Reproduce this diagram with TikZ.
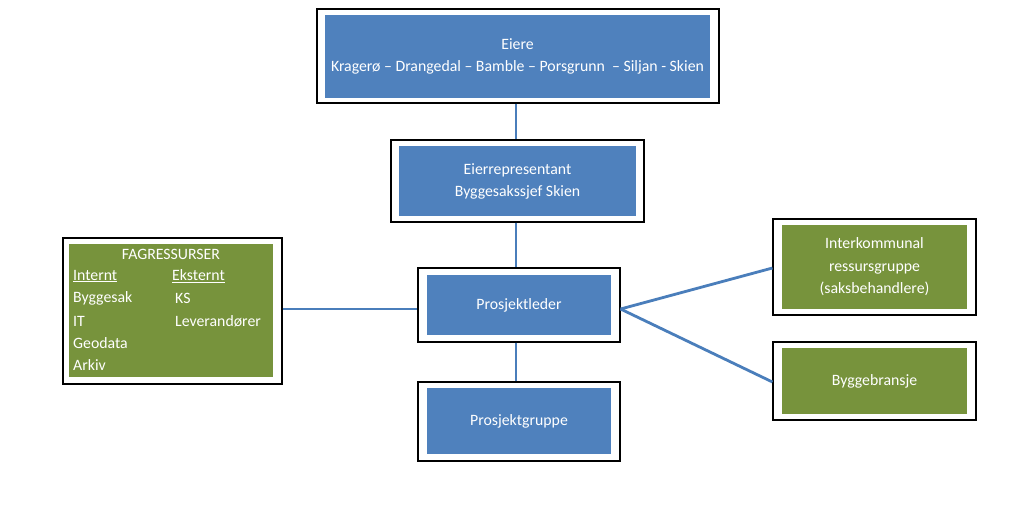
\documentclass[tikz,border=0pt]{standalone}
\usepackage{fontspec}
\setmainfont{Carlito}
\definecolor{boxblue}{HTML}{4F81BD}
\definecolor{boxgreen}{HTML}{77933C}
\definecolor{lineblue}{HTML}{4A7EBB}
\begin{document}
\begin{tikzpicture}[x=1pt,y=-1pt,
  frame/.style={draw=black,line width=1.1pt,fill=white,inner sep=0pt},
  bluebox/.style={fill=boxblue,text=white,inner sep=0pt,align=center,font=\fontsize{15.8}{22}\selectfont},
  greenbox/.style={fill=boxgreen,text=white,inner sep=0pt,align=center,font=\fontsize{15.8}{22.5}\selectfont},
  txt/.style={text=white,inner sep=0pt,anchor=west,font=\fontsize{15.8}{18}\selectfont},
  conn/.style={draw=lineblue,line width=2.8pt}]
\useasboundingbox (0,0) rectangle (1024,528);
\fill[white] (0,0) rectangle (1024,528);
% Eiere
\node[frame,minimum width=402pt,minimum height=94pt] (eiereF) at (518,56) {};
\node[bluebox,minimum width=385pt,minimum height=83pt] (eiere) at (517.5,56.5) {Eiere\\Kragerø – Drangedal – Bamble – Porsgrunn\ \ – Siljan - Skien};
% Eierrepresentant
\node[frame,minimum width=253pt,minimum height=82pt] (eierrepF) at (517.5,181) {};
\node[bluebox,minimum width=237pt,minimum height=70pt] (eierrep) at (517.5,181) {Eierrepresentant\\Byggesakssjef Skien};
% Prosjektleder
\node[frame,minimum width=202pt,minimum height=74pt] (plF) at (519,305) {};
\node[bluebox,minimum width=184pt,minimum height=60pt] (pl) at (519,305) {Prosjektleder};
% Prosjektgruppe
\node[frame,minimum width=202pt,minimum height=79pt] (pgF) at (519,421.5) {};
\node[bluebox,minimum width=184pt,minimum height=66pt] (pg) at (519,421) {Prosjektgruppe};
% Fagressurser
\node[frame,minimum width=219pt,minimum height=146pt] (fagF) at (172.5,311) {};
\node[fill=boxgreen,inner sep=0pt,minimum width=204pt,minimum height=133pt] (fag) at (171,310.5) {};
\node[txt,anchor=center] (fagT) at (171,254) {FAGRESSURSER};
\node[txt] (intT) at (73,276) {\underline{Internt}};
\node[txt] (ekstT) at (172,276) {\underline{Eksternt}};
\node[txt] (byggT) at (73,298.5) {Byggesak};
\node[txt] (ksT) at (175,298.5) {KS};
\node[txt] (itT) at (73,321) {IT};
\node[txt] (levT) at (175,321) {Leverandører};
\node[txt] (geoT) at (73,343) {Geodata};
\node[txt] (arkT) at (73,365.5) {Arkiv};
% Interkommunal
\node[frame,minimum width=203pt,minimum height=96pt] (ikF) at (874.5,267) {};
\node[greenbox,minimum width=185pt,minimum height=84pt] (ik) at (874.5,267) {Interkommunal\\ressursgruppe\\(saksbehandlere)};
% Byggebransje
\node[frame,minimum width=203pt,minimum height=78pt] (bbF) at (874.5,381) {};
\node[greenbox,minimum width=185pt,minimum height=66pt] (bb) at (874.5,381) {Byggebransje};
% connectors
\draw[conn] (eiereF.south -| 516,0) -- (eierrepF.north -| 516,0);
\draw[conn] (eierrepF.south -| 516,0) -- (plF.north -| 516,0);
\draw[conn] (plF.south -| 516,0) -- (pgF.north -| 516,0);
\draw[conn] (fagF.east |- 0,309) -- (plF.west |- 0,309);
\draw[conn] (plF.east |- 0,309) -- (ikF.west |- 0,268);
\draw[conn] (plF.east |- 0,309) -- (bbF.west |- 0,382);
\end{tikzpicture}
\end{document}
